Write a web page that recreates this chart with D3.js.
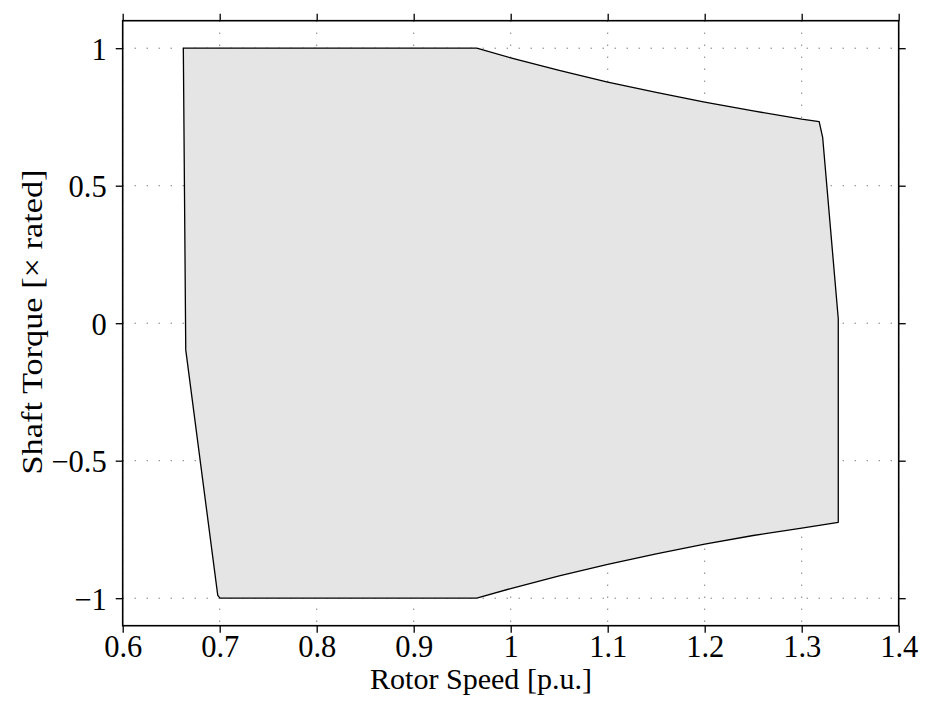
<!DOCTYPE html>
<html>
<head>
<meta charset="utf-8">
<script src="https://cdn.jsdelivr.net/npm/d3@7"></script>
<style>
  html, body { margin: 0; padding: 0; background: #fff; }
  svg { display: block; }
  text { font-family: "Liberation Serif", "Times New Roman", serif; fill: #000; }
</style>
</head>
<body>
<svg id="chart" width="926" height="716"></svg>
<script>
// Operating envelope boundary: rotor speed [p.u.] vs shaft torque [x rated]
const speed = [0.6625, 0.965, 1.0, 1.05, 1.1, 1.15, 1.2, 1.25, 1.3, 1.318, 1.3216, 1.3377,
               1.3377, 1.3, 1.25, 1.2, 1.15, 1.1, 1.05, 1.0, 0.965, 0.7003, 0.698, 0.665];
const torque = [1.0, 1.0, 0.965, 0.919, 0.877, 0.839, 0.804, 0.772, 0.742, 0.733, 0.676, 0.016,
                -0.724, -0.745, -0.772, -0.803, -0.839, -0.877, -0.919, -0.965, -1.0, -1.0, -0.99, -0.097];

const xTicks = [0.6, 0.7, 0.8, 0.9, 1.0, 1.1, 1.2, 1.3, 1.4];
const yTicks = [-1, -0.5, 0, 0.5, 1];
const xDomain = [0.6, 1.4];
const yDomain = [-1.1, 1.1];

const svg = d3.select("#chart");
const plotL = 122.7, plotR = 898.7, plotT = 20.7, plotB = 625.7;
const plotW = plotR - plotL, plotH = plotB - plotT;

const x = d3.scaleLinear().domain(xDomain).range([plotL, plotR]);
const y = d3.scaleLinear().domain(yDomain).range([plotB, plotT]);

const fmt = v => {
  const s = d3.format("")(Math.round(v * 10) / 10);
  return s.replace("-", "\u2212");
};

// dotted grid, drawn first so the envelope sits on top
const grid = svg.append("g").attr("stroke", "#444").attr("stroke-width", 1)
  .attr("stroke-dasharray", "1,11").attr("fill", "none");
grid.selectAll("line.v").data(xTicks).join("line").attr("class", "v")
  .attr("x1", d => x(d)).attr("x2", d => x(d))
  .attr("y1", plotT).attr("y2", plotB);
grid.selectAll("line.h").data(yTicks).join("line").attr("class", "h")
  .attr("x1", plotL).attr("x2", plotR)
  .attr("y1", d => y(d)).attr("y2", d => y(d));

// envelope polygon
const pts = speed.map((s, i) => [x(s), y(torque[i])]);
svg.append("path")
  .attr("d", d3.line()(pts) + "Z")
  .attr("fill", "#e5e5e5")
  .attr("stroke", "#000")
  .attr("stroke-width", 1.3)
  .attr("stroke-linejoin", "round");

// axes: ticks outward on all four sides
const tick = 7;
const axB = d3.axisBottom(x).tickValues(xTicks).tickSize(tick).tickFormat(fmt);
const axT = d3.axisTop(x).tickValues(xTicks).tickSize(tick).tickFormat("");
const axL = d3.axisLeft(y).tickValues(yTicks).tickSize(tick).tickFormat(fmt);
const axR = d3.axisRight(y).tickValues(yTicks).tickSize(tick).tickFormat("");

function style(g) {
  g.select(".domain").remove();
  g.selectAll(".tick line").attr("stroke", "#000").attr("stroke-width", 1.3);
  g.selectAll(".tick text").attr("font-size", 30.5)
    .style("font-family", '"Liberation Serif", serif').attr("fill", "#000");
}

svg.append("g").attr("transform", `translate(0,${plotB})`).call(axB).call(style)
  .selectAll(".tick text").attr("dy", null).attr("y", 31);
svg.append("g").attr("transform", `translate(0,${plotT})`).call(axT).call(style);
svg.append("g").attr("transform", `translate(${plotL},0)`).call(axL).call(style)
  .selectAll(".tick text").attr("x", -16).attr("dy", "0.36em");
svg.append("g").attr("transform", `translate(${plotR},0)`).call(axR).call(style);

// frame
svg.append("rect")
  .attr("x", plotL).attr("y", plotT).attr("width", plotW).attr("height", plotH)
  .attr("fill", "none").attr("stroke", "#000").attr("stroke-width", 1.6);

// axis titles
svg.append("text")
  .attr("x", 481).attr("y", 689)
  .attr("text-anchor", "middle").attr("font-size", 29)
  .attr("textLength", 222).attr("lengthAdjust", "spacingAndGlyphs")
  .text("Rotor Speed [p.u.]");
svg.append("text")
  .attr("transform", `translate(42,322) rotate(-90)`)
  .attr("text-anchor", "middle").attr("font-size", 30)
  .attr("textLength", 305).attr("lengthAdjust", "spacingAndGlyphs")
  .text("Shaft Torque [\u00d7 rated]");
</script>
</body>
</html>
